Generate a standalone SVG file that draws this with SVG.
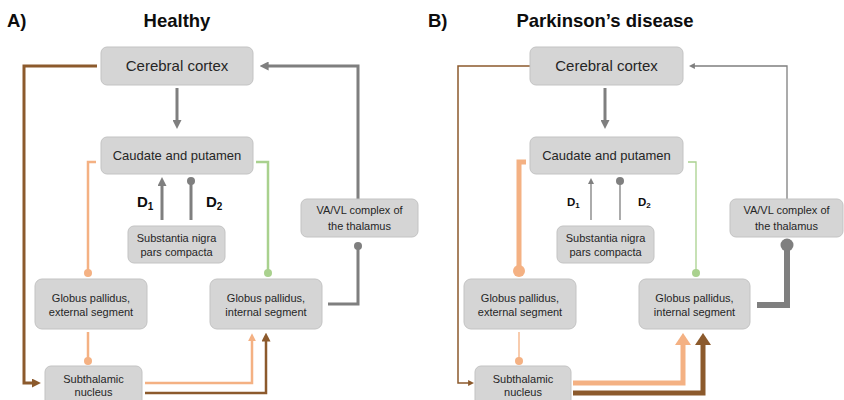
<svg xmlns="http://www.w3.org/2000/svg" width="844" height="400" viewBox="0 0 844 400">
<style>
.box{fill:#d5d5d5;stroke:#c3c3c3;stroke-width:1}
.t{font-family:"Liberation Sans",Arial,sans-serif;fill:#262626;text-anchor:middle}
.big{font-size:15px}
.mid{font-size:13px}
.sm{font-size:11px}
.ttl{font-family:"Liberation Sans",Arial,sans-serif;font-weight:bold;font-size:18.5px;fill:#0d0d0d}
.d{font-family:"Liberation Sans",Arial,sans-serif;font-weight:bold;fill:#0d0d0d}
.c{fill:none;stroke-linejoin:miter;stroke-linecap:butt}
.gray{stroke:#7f7f7f}
.brown{stroke:#8c5a2c}
.orange{stroke:#f4b183}
.green{stroke:#a9d18e}
</style>
<defs>
<marker id="agray" viewBox="0 0 10 10" refX="4" refY="5" markerWidth="9" markerHeight="9" markerUnits="userSpaceOnUse" orient="auto"><path d="M0,0 L10,5 L0,10 z" fill="#7f7f7f"/></marker>
<marker id="agraysm" viewBox="0 0 10 10" refX="4" refY="5" markerWidth="6" markerHeight="6" markerUnits="userSpaceOnUse" orient="auto"><path d="M0,0 L10,5 L0,10 z" fill="#7f7f7f"/></marker>
<marker id="abrown" viewBox="0 0 10 10" refX="4" refY="5" markerWidth="9" markerHeight="9" markerUnits="userSpaceOnUse" orient="auto"><path d="M0,0 L10,5 L0,10 z" fill="#8c5a2c"/></marker>
<marker id="abrownsm" viewBox="0 0 10 10" refX="4" refY="5" markerWidth="6" markerHeight="6" markerUnits="userSpaceOnUse" orient="auto"><path d="M0,0 L10,5 L0,10 z" fill="#8c5a2c"/></marker>
<marker id="aorange" viewBox="0 0 10 10" refX="4" refY="5" markerWidth="8" markerHeight="8" markerUnits="userSpaceOnUse" orient="auto"><path d="M0,0 L10,5 L0,10 z" fill="#f4b183"/></marker>
<marker id="aorangebig" viewBox="0 0 12 16" refX="1" refY="8" markerWidth="12" markerHeight="16" markerUnits="userSpaceOnUse" orient="auto"><path d="M0,0 L12,8 L0,16 z" fill="#f4b183"/></marker>
<marker id="abrownbig" viewBox="0 0 12 16" refX="1" refY="8" markerWidth="12" markerHeight="16" markerUnits="userSpaceOnUse" orient="auto"><path d="M0,0 L12,8 L0,16 z" fill="#8c5a2c"/></marker>
</defs>
<rect width="844" height="400" fill="#ffffff"/>

<text class="ttl" x="7" y="27">A)</text>
<text class="ttl" x="177" y="27" text-anchor="middle">Healthy</text>
<text class="ttl" x="428" y="27">B)</text>
<text class="ttl" x="605" y="27" text-anchor="middle">Parkinson’s disease</text>

<g id="connectors">
 <!-- Panel A -->
 <path class="c gray" stroke-width="3" d="M177,88 V123.6" marker-end="url(#agray)"/>
 <path class="c gray" stroke-width="3" d="M358,199 V66 H265" marker-end="url(#agray)"/>
 <path class="c brown" stroke-width="3" d="M97,66 H24 V383 H35.5" marker-end="url(#abrown)"/>
 <path class="c orange" stroke-width="2.5" d="M96,162 H88 V273"/>
 <circle cx="88" cy="273" r="4" fill="#f4b183"/>
 <path class="c green" stroke-width="2.5" d="M256,162 H268 V273"/>
 <circle cx="268" cy="273" r="4" fill="#a9d18e"/>
 <path class="c gray" stroke-width="3" d="M162,220 V182.4" marker-end="url(#agray)"/>
 <path class="c gray" stroke-width="3" d="M191,220 V181"/>
 <circle cx="191" cy="181" r="4" fill="#7f7f7f"/>
 <path class="c gray" stroke-width="3" d="M328,304 H358 V246"/>
 <circle cx="358" cy="246" r="4" fill="#7f7f7f"/>
 <path class="c orange" stroke-width="2.5" d="M88,332 V361"/>
 <circle cx="88" cy="361" r="4" fill="#f4b183"/>
 <path class="c orange" stroke-width="2.5" d="M145,383 H252 V338" marker-end="url(#aorange)"/>
 <path class="c brown" stroke-width="2.5" d="M145,393 H266 V338" marker-end="url(#abrown)"/>

 <!-- Panel B -->
 <path class="c gray" stroke-width="3" d="M605,88 V123.6" marker-end="url(#agray)"/>
 <path class="c gray" stroke-width="1.3" d="M787,199 V66 H692.5" marker-end="url(#agraysm)"/>
 <path class="c brown" stroke-width="1.5" d="M530,66 H458 V383 H470.5" marker-end="url(#abrownsm)"/>
 <path class="c orange" stroke-width="5" d="M526,162 H519 V266"/>
 <circle cx="519" cy="271" r="6" fill="#f4b183"/>
 <path class="c green" stroke-width="1.3" d="M688,162 H696 V273"/>
 <circle cx="696" cy="273" r="4" fill="#a9d18e"/>
 <path class="c gray" stroke-width="1.3" d="M591,220 V181.6" marker-end="url(#agraysm)"/>
 <path class="c gray" stroke-width="1.3" d="M620,220 V181"/>
 <circle cx="620" cy="181" r="4" fill="#7f7f7f"/>
 <path class="c gray" stroke-width="6" d="M757,305 H787 V246"/>
 <circle cx="787" cy="245" r="6.5" fill="#7f7f7f"/>
 <path class="c orange" stroke-width="1.3" d="M519,332 V361"/>
 <circle cx="519" cy="361" r="4" fill="#f4b183"/>
 <path class="c orange" stroke-width="5" d="M573,383 H683 V344" marker-end="url(#aorangebig)"/>
 <path class="c brown" stroke-width="5" d="M573,393 H703 V344" marker-end="url(#abrownbig)"/>
</g>

<g id="d-labels">
 <text class="d" x="137" y="207" font-size="15">D<tspan font-size="10" dy="3">1</tspan></text>
 <text class="d" x="206" y="207" font-size="15">D<tspan font-size="10" dy="3">2</tspan></text>
 <text class="d" x="567" y="206" font-size="11.5">D<tspan font-size="8" dy="2">1</tspan></text>
 <text class="d" x="638" y="206" font-size="11.5">D<tspan font-size="8" dy="2">2</tspan></text>
</g>

<!-- Panel A nodes -->
<g id="a-cortex"><rect class="box" x="101" y="47" width="152" height="38" rx="6"/><text class="t big" x="177" y="71">Cerebral cortex</text></g>
<g id="a-caudate"><rect class="box" x="101" y="137" width="152" height="37" rx="6"/><text class="t mid" x="177" y="160">Caudate and putamen</text></g>
<g id="a-snc"><rect class="box" x="128" y="226" width="97" height="37" rx="6"/><text class="t sm" x="176.5" y="242">Substantia nigra</text><text class="t sm" x="176.5" y="256">pars compacta</text></g>
<g id="a-vavl"><rect class="box" x="301" y="199" width="117" height="38" rx="6"/><text class="t sm" x="359.5" y="214" font-size="12">VA/VL complex of</text><text class="t sm" x="359.5" y="230" font-size="12">the thalamus</text></g>
<g id="a-gpe"><rect class="box" x="35" y="279" width="112" height="50" rx="7"/><text class="t sm" x="91" y="302">Globus pallidus,</text><text class="t sm" x="91" y="316">external segment</text></g>
<g id="a-gpi"><rect class="box" x="210" y="279" width="112" height="50" rx="7"/><text class="t sm" x="266" y="302">Globus pallidus,</text><text class="t sm" x="266" y="316">internal segment</text></g>
<g id="a-stn"><rect class="box" x="45" y="366" width="97" height="40" rx="6"/><text class="t sm" x="93.5" y="383">Subthalamic</text><text class="t sm" x="93.5" y="396">nucleus</text></g>

<!-- Panel B nodes -->
<g id="b-cortex"><rect class="box" x="530" y="47" width="153" height="38" rx="6"/><text class="t big" x="606.5" y="71">Cerebral cortex</text></g>
<g id="b-caudate"><rect class="box" x="530" y="137" width="153" height="37" rx="6"/><text class="t mid" x="606.5" y="160">Caudate and putamen</text></g>
<g id="b-snc"><rect class="box" x="557" y="226" width="97" height="37" rx="6"/><text class="t sm" x="605.5" y="242">Substantia nigra</text><text class="t sm" x="605.5" y="256">pars compacta</text></g>
<g id="b-vavl"><rect class="box" x="730" y="199" width="113" height="38" rx="6"/><text class="t sm" x="786.5" y="214" font-size="12">VA/VL complex of</text><text class="t sm" x="786.5" y="230" font-size="12">the thalamus</text></g>
<g id="b-gpe"><rect class="box" x="464" y="279" width="112" height="50" rx="7"/><text class="t sm" x="520" y="302">Globus pallidus,</text><text class="t sm" x="520" y="316">external segment</text></g>
<g id="b-gpi"><rect class="box" x="639" y="279" width="111" height="50" rx="7"/><text class="t sm" x="694.5" y="302">Globus pallidus,</text><text class="t sm" x="694.5" y="316">internal segment</text></g>
<g id="b-stn"><rect class="box" x="475" y="366" width="96" height="40" rx="6"/><text class="t sm" x="523" y="383">Subthalamic</text><text class="t sm" x="523" y="396">nucleus</text></g>
</svg>
